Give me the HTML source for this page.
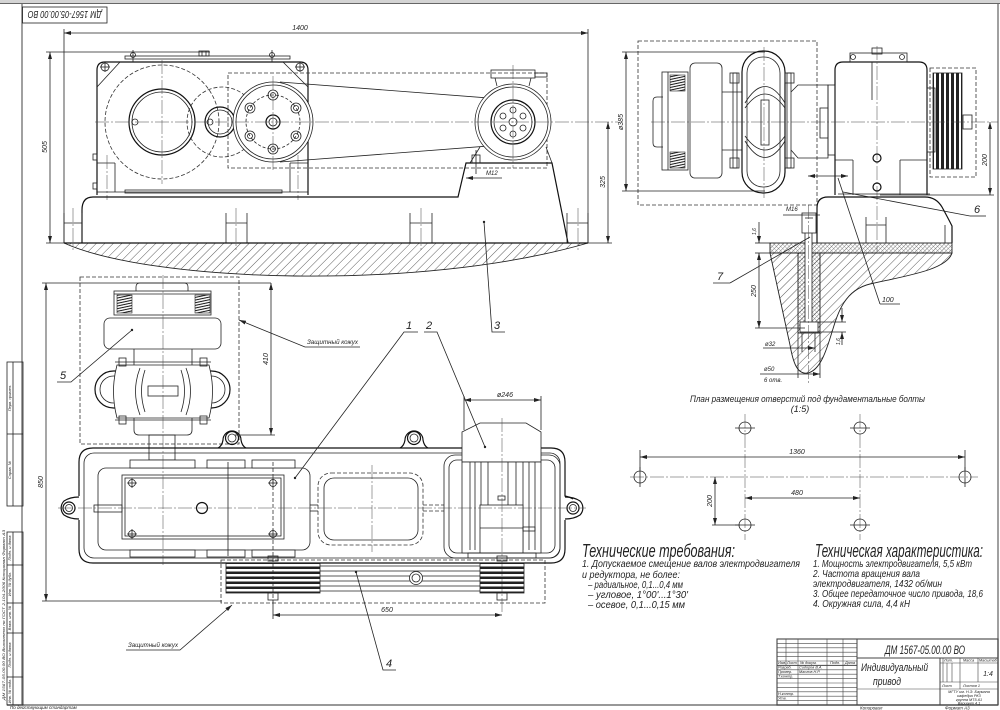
<!DOCTYPE html>
<html><head><meta charset="utf-8">
<style>
html,body{margin:0;padding:0;background:#fff;width:1000px;height:710px;overflow:hidden}
svg{display:block}
text{font-family:"Liberation Sans","DejaVu Sans",sans-serif;font-style:italic;fill:#222}
.l{fill:none;stroke:#222;stroke-width:.8}
.k{fill:none;stroke:#111;stroke-width:1.2}
.w{fill:#fff;stroke:#222;stroke-width:.8}
.d{fill:none;stroke:#333;stroke-width:.8;stroke-dasharray:4 2}
.c{fill:none;stroke:#444;stroke-width:.5;stroke-dasharray:14 2 2 2}
.g{fill:none;stroke:#777;stroke-width:1.4}
</style></head><body>
<svg width="1000" height="710" viewBox="0 0 1000 710" xmlns="http://www.w3.org/2000/svg">
<defs>
<pattern id="h" width="6" height="6" patternUnits="userSpaceOnUse" patternTransform="rotate(45)"><line x1="0" y1="0" x2="0" y2="6" stroke="#333" stroke-width="0.8"/></pattern>
<pattern id="hx" width="3" height="3" patternUnits="userSpaceOnUse" patternTransform="rotate(45)"><line x1="0" y1="0" x2="0" y2="3" stroke="#333" stroke-width="0.7"/><line x1="0" y1="0" x2="3" y2="0" stroke="#555" stroke-width="0.5"/></pattern>
<pattern id="sp" width="4" height="2.6" patternUnits="userSpaceOnUse" patternTransform="rotate(-12)"><line x1="0" y1="1.3" x2="4" y2="1.3" stroke="#111" stroke-width="1"/></pattern>
<pattern id="gv" width="5" height="10" patternUnits="userSpaceOnUse"><rect x="1" y="0" width="3" height="10" fill="#222"/></pattern>
<pattern id="gh" width="10" height="5" patternUnits="userSpaceOnUse"><rect x="0" y="1.5" width="10" height="2.5" fill="#222"/></pattern>
<marker id="a" markerWidth="7" markerHeight="4" refX="7" refY="2" orient="auto-start-reverse" markerUnits="userSpaceOnUse"><path d="M0,0 L7,2 L0,4z" fill="#222"/></marker>
</defs>

<!-- page frame -->
<rect x="0" y="0" width="1000" height="3" fill="#d4d4d4"/>
<line x1="0" y1="3.5" x2="1000" y2="3.5" stroke="#666" stroke-width="1"/>
<line x1="22" y1="4" x2="22" y2="705" class="g" stroke-width="1"/>
<line x1="998" y1="4" x2="998" y2="705" class="g" stroke-width="1"/>
<line x1="7" y1="705" x2="998" y2="705" class="g"/>
<text x="10" y="709" font-size="4.5" fill="#557">По действующим стандартам</text>
<text x="860" y="709.5" font-size="4.5">Копировал</text>
<text x="945" y="709.5" font-size="4.5">Формат А3</text>

<!-- stamp top-left -->
<rect x="22.5" y="7" width="84.5" height="16" class="l"/>
<text transform="rotate(180 64.75 15)" x="64.75" y="19" font-size="10" text-anchor="middle" textLength="74" lengthAdjust="spacingAndGlyphs">ДМ 1567-05.00.00 ВО</text>

<!-- left margin stamps -->
<rect x="7" y="362" width="16" height="144" class="l"/>
<line x1="7" y1="434" x2="23" y2="434" class="l"/>
<line x1="13" y1="362" x2="13" y2="506" class="l"/>
<text transform="translate(11,398) rotate(-90)" font-size="4" text-anchor="middle">Перв. примен.</text>
<text transform="translate(11,470) rotate(-90)" font-size="4" text-anchor="middle">Справ. №</text>
<rect x="7" y="532" width="16" height="173" class="l"/>
<line x1="13" y1="532" x2="13" y2="705" class="l"/>
<line x1="7" y1="565" x2="23" y2="565" class="l"/>
<line x1="7" y1="603" x2="23" y2="603" class="l"/>
<line x1="7" y1="633" x2="23" y2="633" class="l"/>
<line x1="7" y1="677" x2="23" y2="677" class="l"/>
<text transform="translate(11,548) rotate(-90)" font-size="4" text-anchor="middle">Подп. и дата</text>
<text transform="translate(11,584) rotate(-90)" font-size="4" text-anchor="middle">Инв. № дубл.</text>
<text transform="translate(11,618) rotate(-90)" font-size="4" text-anchor="middle">Взам. инв. №</text>
<text transform="translate(11,655) rotate(-90)" font-size="4" text-anchor="middle">Подп. и дата</text>
<text transform="translate(11,691) rotate(-90)" font-size="4" text-anchor="middle">Инв. № подл.</text>
<text transform="translate(5,700) rotate(-90)" font-size="4" fill="#557" textLength="170" lengthAdjust="spacingAndGlyphs">ДМ 1567-05.00.00 ВО Выполнено по ГОСТ 2.104-2006 Копировал Формат А3</text>

<!-- ================= TOP VIEW ================= -->
<line x1="64" y1="33" x2="588" y2="33" class="l" marker-start="url(#a)" marker-end="url(#a)"/>
<line x1="64" y1="29" x2="64" y2="243" class="l"/>
<line x1="588" y1="29" x2="588" y2="243" class="l"/>
<text x="300" y="30" font-size="7" text-anchor="middle">1400</text>
<line x1="50" y1="52" x2="50" y2="243" class="l" marker-start="url(#a)" marker-end="url(#a)"/>
<line x1="46" y1="52" x2="210" y2="52" class="l"/>
<line x1="46" y1="243" x2="64" y2="243" class="l"/>
<text transform="translate(47,147) rotate(-90)" font-size="7" text-anchor="middle">505</text>

<!-- housing -->
<path d="M97,195 L97,70 Q97,62 105,62 L300,62 Q308,62 308,70 L308,195" class="k"/>
<line x1="120" y1="62" x2="97" y2="87" class="l"/>
<line x1="283" y1="62" x2="308" y2="87" class="l"/>
<rect x="125" y="56" width="165" height="3" class="l"/>
<circle cx="133" cy="55" r="2.5" class="l"/><line x1="133" y1="50" x2="133" y2="62" class="l"/>
<circle cx="272" cy="55" r="2.5" class="l"/><line x1="272" y1="50" x2="272" y2="62" class="l"/>
<rect x="199" y="51" width="10" height="5" class="l"/><line x1="202" y1="51" x2="202" y2="56" class="l"/><line x1="206" y1="51" x2="206" y2="56" class="l"/>
<circle cx="105" cy="67" r="4" class="l"/><line x1="100" y1="67" x2="110" y2="67" class="l"/><line x1="105" y1="62" x2="105" y2="72" class="l"/>
<circle cx="300" cy="67" r="4" class="l"/><line x1="295" y1="67" x2="305" y2="67" class="l"/><line x1="300" y1="62" x2="300" y2="72" class="l"/>
<circle cx="162" cy="122" r="57" class="d"/>
<circle cx="162" cy="122" r="33" class="k"/>
<circle cx="162" cy="122" r="30" class="l"/>
<circle cx="135" cy="122" r="3" class="l"/>
<circle cx="222" cy="122" r="35" class="d"/>
<circle cx="220" cy="122" r="15" class="k"/>
<circle cx="220" cy="122" r="12" class="l"/>
<circle cx="210" cy="122" r="3" class="l"/>
<!-- feet -->
<line x1="115" y1="163" x2="115" y2="192" class="l"/><line x1="97" y1="163" x2="115" y2="163" class="l"/>
<line x1="290" y1="163" x2="290" y2="192" class="l"/><line x1="290" y1="163" x2="308" y2="163" class="l"/>
<line x1="107" y1="155" x2="107" y2="200" class="c"/><line x1="298" y1="155" x2="298" y2="200" class="c"/>
<rect x="93" y="154" width="4" height="6" class="l"/><rect x="93" y="183" width="4" height="6" class="l"/>
<line x1="97" y1="192" x2="308" y2="192" class="l"/>
<rect x="125" y="190" width="157" height="3" class="l"/>
<!-- guard -->
<rect x="228" y="73" width="319" height="95" class="d"/>
<!-- belts -->
<line x1="280" y1="82" x2="515" y2="100" class="l"/>
<line x1="280" y1="162" x2="515" y2="144" class="l"/>
<!-- big pulley -->
<circle cx="273" cy="122" r="40" class="w" stroke-width="1.2"/>
<circle cx="273" cy="122" r="37" class="l"/>
<circle cx="273" cy="122" r="27" class="l" stroke-dasharray="3 2"/>
<g class="l">
<circle cx="273" cy="95" r="5"/><circle cx="273" cy="95" r="2.5"/>
<circle cx="250" cy="108" r="5"/><circle cx="250" cy="108" r="2.5"/>
<circle cx="296" cy="108" r="5"/><circle cx="296" cy="108" r="2.5"/>
<circle cx="250" cy="136" r="5"/><circle cx="250" cy="136" r="2.5"/>
<circle cx="296" cy="136" r="5"/><circle cx="296" cy="136" r="2.5"/>
<circle cx="273" cy="149" r="5"/><circle cx="273" cy="149" r="2.5"/>
</g>
<circle cx="273" cy="122" r="7" class="k" stroke-width="1.6"/>
<circle cx="273" cy="122" r="4" class="l"/>
<!-- motor -->
<rect x="491" y="70" width="44" height="8" class="l"/>
<rect x="535" y="73" width="12" height="4" class="l"/>
<line x1="495" y1="78" x2="497" y2="86" class="l"/><line x1="531" y1="78" x2="529" y2="86" class="l"/>
<circle cx="513" cy="122" r="38" class="w" stroke-width="1.2"/>
<circle cx="513" cy="122" r="35" class="l"/>
<circle cx="513" cy="122" r="22" class="k"/>
<circle cx="513" cy="122" r="19" class="l"/>
<g class="l">
<circle cx="513" cy="110" r="3"/><circle cx="523" cy="116" r="3"/><circle cx="523" cy="128" r="3"/>
<circle cx="513" cy="134" r="3"/><circle cx="503" cy="128" r="3"/><circle cx="503" cy="116" r="3"/>
<circle cx="513" cy="122" r="4"/>
</g>
<line x1="480" y1="147" x2="470" y2="163" class="l"/>
<line x1="546" y1="147" x2="552" y2="163" class="l"/>
<!-- base -->
<path d="M93,197 Q82,197 82,210 L82,243" class="k"/>
<path d="M93,197 L458,197 L466,163 L552,163 L568,243" class="k"/>
<line x1="476" y1="150" x2="476" y2="174" class="l"/>
<rect x="472" y="155" width="8" height="8" class="l"/>
<line x1="466" y1="178" x2="502" y2="178" class="l" marker-start="url(#a)"/>
<text x="486" y="175" font-size="6">M12</text>
<!-- foundation bolts -->
<g class="l">
<line x1="64" y1="213" x2="64" y2="243"/><line x1="82" y1="213" x2="82" y2="243"/><line x1="64" y1="223" x2="82" y2="223"/>
<line x1="226" y1="213" x2="226" y2="243"/><line x1="247" y1="213" x2="247" y2="243"/><line x1="226" y1="223" x2="247" y2="223"/>
<line x1="410" y1="213" x2="410" y2="243"/><line x1="432" y1="213" x2="432" y2="243"/><line x1="410" y1="223" x2="432" y2="223"/>
<line x1="567" y1="213" x2="567" y2="243"/><line x1="588" y1="213" x2="588" y2="243"/><line x1="567" y1="223" x2="588" y2="223"/>
</g>
<line x1="73" y1="208" x2="73" y2="250" class="c"/><line x1="236" y1="208" x2="236" y2="250" class="c"/>
<line x1="421" y1="208" x2="421" y2="250" class="c"/><line x1="578" y1="208" x2="578" y2="250" class="c"/>
<!-- foundation -->
<path d="M64,243 L588,243 C420,292 150,282 64,243 Z" fill="url(#h)" stroke="#222" stroke-width=".9"/>
<line x1="64" y1="243" x2="588" y2="243" class="k"/>
<!-- centerlines -->
<line x1="95" y1="122" x2="618" y2="122" class="c"/>
<line x1="162" y1="60" x2="162" y2="184" class="c"/>
<line x1="273" y1="76" x2="273" y2="170" class="c"/>
<line x1="513" y1="65" x2="513" y2="168" class="c"/>
<!-- 325 -->
<line x1="608" y1="122" x2="608" y2="243" class="l" marker-start="url(#a)" marker-end="url(#a)"/>
<line x1="588" y1="243" x2="612" y2="243" class="l"/>
<text transform="translate(605,182) rotate(-90)" font-size="7" text-anchor="middle">325</text>
<!-- label 3 -->
<circle cx="484" cy="222" r="1.2" fill="#222"/>
<polyline points="484,222 492,332 505,332" class="l"/>
<text x="494" y="329" font-size="11">3</text>

<!-- ================= RIGHT VIEW ================= -->
<rect x="638" y="41" width="179" height="164" class="d"/>
<line x1="626" y1="52" x2="626" y2="191" class="l" marker-start="url(#a)" marker-end="url(#a)"/>
<line x1="622" y1="52" x2="765" y2="52" class="l"/>
<line x1="622" y1="191" x2="765" y2="191" class="l"/>
<text transform="translate(623,122) rotate(-90)" font-size="7" text-anchor="middle">ø385</text>
<!-- brake -->
<path d="M663,97 L657,97 Q653,97 653,101 L653,143 Q653,147 657,147 L663,147" class="l"/>
<rect x="662" y="72" width="26" height="98" class="l"/>
<line x1="668" y1="72" x2="668" y2="170" class="l"/>
<rect x="670" y="75" width="15" height="16" fill="url(#sp)" stroke="#222" stroke-width=".6"/>
<rect x="670" y="152" width="15" height="16" fill="url(#sp)" stroke="#222" stroke-width=".6"/>
<rect x="690" y="63" width="32" height="115" rx="5" class="w"/>
<line x1="722" y1="92" x2="742" y2="92" class="l"/><line x1="722" y1="150" x2="742" y2="150" class="l"/>
<!-- coupling -->
<rect x="742" y="51" width="43" height="142" rx="21" class="k"/>
<rect x="747" y="57" width="33" height="130" rx="16" class="l"/>
<rect x="733" y="73" width="4" height="95" class="l"/>
<rect x="787" y="73" width="4" height="95" class="l"/>
<rect x="730" y="73" width="9" height="10" class="l"/><rect x="730" y="158" width="9" height="10" class="l"/>
<rect x="785" y="73" width="9" height="10" class="l"/><rect x="785" y="158" width="9" height="10" class="l"/>
<path d="M745,108 Q765,80 785,108 M745,103 Q765,70 785,103 M745,136 Q765,164 785,136 M745,141 Q765,174 785,141" class="l"/>
<rect x="761" y="100" width="8" height="45" class="l"/>
<line x1="764" y1="47" x2="764" y2="198" class="c"/>
<!-- connector -->
<path d="M791,92 L798,85 L828,85 L828,158 L798,158 L791,150" class="l"/>
<rect x="820" y="108" width="8" height="30" class="l"/>
<!-- gearbox side -->
<path d="M835,195 L835,70 Q835,62 843,62 L919,62 Q927,62 927,70 L927,195" class="k"/>
<rect x="850" y="53" width="57" height="9" class="l"/>
<rect x="872" y="48" width="10" height="6" class="l"/>
<circle cx="853" cy="57" r="2.5" class="l"/><circle cx="902" cy="57" r="2.5" class="l"/>
<rect x="828" y="85" width="7" height="70" class="l"/>
<rect x="927" y="88" width="8" height="64" class="l"/>
<line x1="877" y1="46" x2="877" y2="252" class="c"/>
<line x1="853" y1="160" x2="853" y2="195" class="l"/><line x1="900" y1="160" x2="900" y2="195" class="l"/>
<line x1="835" y1="160" x2="853" y2="160" class="l"/><line x1="900" y1="160" x2="927" y2="160" class="l"/>
<circle cx="877" cy="158" r="4" class="k"/><circle cx="877" cy="187" r="4" class="k"/>
<line x1="872" y1="62" x2="872" y2="100" class="l"/>
<!-- pulley -->
<rect x="930" y="68" width="46" height="109" class="d"/>
<rect x="933" y="73" width="29" height="96" fill="url(#gv)" stroke="#222" stroke-width=".8"/>
<rect x="963" y="115" width="9" height="14" class="l"/>
<line x1="651" y1="122" x2="998" y2="122" class="c"/>
<line x1="990" y1="122" x2="990" y2="195" class="l" marker-start="url(#a)" marker-end="url(#a)"/>
<line x1="880" y1="195" x2="994" y2="195" class="l"/>
<text transform="translate(987,160) rotate(-90)" font-size="7" text-anchor="middle">200</text>
<!-- pedestal -->
<path d="M817,243 L817,208 Q817,197 828,197 L925,197 Q936,197 942,207 Q948,218 952,226 L952,243" class="k"/>
<line x1="945" y1="225" x2="945" y2="243" class="l"/>
<line x1="838" y1="194" x2="930" y2="194" class="l"/>
<line x1="866" y1="217" x2="866" y2="243" class="l"/><line x1="886" y1="217" x2="886" y2="243" class="l"/><line x1="866" y1="225" x2="886" y2="225" class="l"/>
<!-- foundation section -->
<path d="M770,253 L952,253 C947,270 905,276 870,284 C845,290 838,312 832,332 C826,352 820,370 808,373 C797,375 793,362 790,345 Z" fill="url(#h)" stroke="#222" stroke-width=".9"/>
<rect x="770" y="243" width="182" height="10" fill="url(#hx)" stroke="#222" stroke-width=".9"/>
<rect x="798" y="253" width="22" height="80" fill="url(#hx)" stroke="#222" stroke-width=".9"/>
<rect x="805" y="228" width="7" height="97" class="w"/>
<rect x="802" y="213" width="14" height="20" class="w"/>
<line x1="805" y1="218" x2="813" y2="218" class="l"/>
<rect x="800" y="322" width="18" height="10" class="w"/>
<line x1="808.5" y1="205" x2="808.5" y2="385" class="c"/>
<!-- lower dims -->
<line x1="783" y1="215" x2="820" y2="215" class="l"/>
<text x="786" y="211" font-size="6">M16</text>
<line x1="759" y1="222" x2="759" y2="243" class="l" marker-end="url(#a)"/>
<text transform="translate(756,235) rotate(-90)" font-size="5">1,6</text>
<line x1="759" y1="253" x2="759" y2="328" class="l" marker-start="url(#a)" marker-end="url(#a)"/>
<line x1="755" y1="243" x2="770" y2="243" class="l"/><line x1="755" y1="253" x2="770" y2="253" class="l"/>
<line x1="755" y1="328" x2="805" y2="328" class="l"/>
<text transform="translate(756,291) rotate(-90)" font-size="7" text-anchor="middle">250</text>
<line x1="842" y1="308" x2="842" y2="322" class="l" marker-end="url(#a)"/>
<line x1="842" y1="332" x2="842" y2="345" class="l" marker-start="url(#a)"/>
<line x1="818" y1="322" x2="846" y2="322" class="l"/><line x1="818" y1="332" x2="846" y2="332" class="l"/>
<text transform="translate(840,345) rotate(-90)" font-size="5">1,6</text>
<line x1="798" y1="333" x2="798" y2="378" class="l"/><line x1="820" y1="333" x2="820" y2="378" class="l"/>
<line x1="802" y1="333" x2="802" y2="352" class="l"/><line x1="815" y1="333" x2="815" y2="352" class="l"/>
<line x1="763" y1="348" x2="815" y2="348" class="l" marker-end="url(#a)"/>
<text x="765" y="346" font-size="6">ø32</text>
<line x1="760" y1="374" x2="820" y2="374" class="l" marker-end="url(#a)"/>
<text x="764" y="371" font-size="6">ø50</text>
<text x="764" y="382" font-size="6">6 отв.</text>
<!-- labels right -->
<line x1="843" y1="192" x2="970" y2="216" class="l"/><line x1="970" y1="216" x2="986" y2="216" class="l"/>
<text x="974" y="213" font-size="11">6</text>
<line x1="810" y1="237" x2="730" y2="283" class="l"/><line x1="730" y1="283" x2="713" y2="283" class="l"/>
<text x="717" y="280" font-size="11">7</text>
<line x1="808" y1="176" x2="848" y2="176" class="l" marker-start="url(#a)" marker-end="url(#a)"/>
<line x1="838" y1="178" x2="880" y2="304" class="l"/><line x1="880" y1="304" x2="900" y2="304" class="l"/>
<text x="882" y="302" font-size="7">100</text>

<!-- ================= BOTTOM-LEFT VIEW ================= -->
<rect x="80" y="277" width="159" height="167" class="d"/>
<line x1="46" y1="283" x2="46" y2="601" class="l" marker-start="url(#a)" marker-end="url(#a)"/>
<line x1="42" y1="283" x2="271" y2="283" class="l"/>
<line x1="42" y1="601" x2="222" y2="601" class="l"/>
<text transform="translate(43,482) rotate(-90)" font-size="7" text-anchor="middle">850</text>
<line x1="271" y1="283" x2="271" y2="435" class="l" marker-start="url(#a)" marker-end="url(#a)"/>
<line x1="235" y1="435" x2="275" y2="435" class="l"/>
<text transform="translate(268,359) rotate(-90)" font-size="7" text-anchor="middle">410</text>
<!-- brake top -->
<path d="M136,291 L136,287 Q136,283 140,283 L184,283 Q188,283 188,287 L188,291" class="l"/>
<rect x="114" y="291" width="97" height="24" class="l"/>
<line x1="114" y1="294" x2="211" y2="294" class="l"/>
<rect x="117" y="295" width="15" height="18" fill="url(#sp)" stroke="#222" stroke-width=".6"/>
<rect x="195" y="295" width="15" height="18" fill="url(#sp)" stroke="#222" stroke-width=".6"/>
<rect x="104" y="318" width="117" height="31" rx="6" class="w"/>
<line x1="134" y1="349" x2="134" y2="365" class="l"/><line x1="192" y1="349" x2="192" y2="365" class="l"/>
<rect x="95" y="371" width="135" height="37" rx="18.5" class="k"/>
<rect x="100" y="376" width="125" height="27" rx="13.5" class="l"/>
<line x1="115" y1="362" x2="211" y2="362" class="l"/><line x1="115" y1="420" x2="211" y2="420" class="l"/>
<path d="M117,365 L209,365 Q216,391 209,418 L117,418 Q110,391 117,365 Z" class="w"/>
<path d="M145,370 Q138,391 145,412 M181,370 Q188,391 181,412 M140,368 Q131,391 140,415 M186,368 Q195,391 186,415" class="l"/>
<rect x="148" y="386" width="30" height="10" class="l"/>
<rect x="119" y="358" width="7" height="8" class="l"/><rect x="200" y="358" width="7" height="8" class="l"/>
<rect x="119" y="416" width="7" height="8" class="l"/><rect x="200" y="416" width="7" height="8" class="l"/>
<path d="M134,418 L134,430 Q134,435 139,435 L187,435 Q192,435 192,430 L192,418" class="l"/>
<rect x="149" y="435" width="26" height="25" class="l"/>
<!-- frame -->
<path d="M93,448 L551,448 Q565,448 565,462 L565,496 Q570,497 573,499 L573,499 M565,520 L565,549 Q565,563 551,563 L93,563 Q79,563 79,549 L79,520 M79,496 L79,462 Q79,448 93,448" class="k"/>
<rect x="84" y="453" width="476" height="105" rx="10" class="l"/>
<path d="M79,497 Q70,497 64,501 A10,10 0 0 0 64,515 Q70,519 79,519" class="k"/>
<circle cx="69" cy="508" r="6" class="k"/><circle cx="69" cy="508" r="3.5" class="l"/>
<path d="M565,497 Q574,497 580,501 A10,10 0 0 1 580,515 Q574,519 565,519" class="k"/>
<circle cx="573" cy="508" r="6" class="k"/><circle cx="573" cy="508" r="3.5" class="l"/>
<path d="M218,448 Q222,446 223,440 A9,9 0 0 1 241,440 Q242,446 246,448" class="k"/>
<circle cx="232" cy="438" r="6.5" class="k"/><circle cx="232" cy="438" r="4" class="l"/>
<path d="M400,448 Q404,446 405,440 A9,9 0 0 1 423,440 Q424,446 428,448" class="k"/>
<circle cx="414" cy="438" r="6.5" class="k"/><circle cx="414" cy="438" r="4" class="l"/>
<!-- gearbox bottom view -->
<rect x="98" y="468" width="212" height="82" rx="8" class="w"/>
<rect x="122" y="475" width="162" height="64" class="l"/>
<rect x="125" y="478" width="156" height="58" class="l"/>
<g class="l">
<circle cx="132" cy="483" r="3.5"/><line x1="127" y1="483" x2="137" y2="483"/><line x1="132" y1="478" x2="132" y2="488"/>
<circle cx="273" cy="483" r="3.5"/><line x1="268" y1="483" x2="278" y2="483"/><line x1="273" y1="478" x2="273" y2="488"/>
<circle cx="132" cy="534" r="3.5"/><line x1="127" y1="534" x2="137" y2="534"/><line x1="132" y1="529" x2="132" y2="539"/>
<circle cx="273" cy="534" r="3.5"/><line x1="268" y1="534" x2="278" y2="534"/><line x1="273" y1="529" x2="273" y2="539"/>
</g>
<circle cx="202" cy="508" r="5.5" class="k" stroke-width="1.6"/>
<rect x="94" y="505" width="28" height="7" class="l"/>
<rect x="130" y="460" width="65" height="8" class="w"/><rect x="207" y="460" width="38" height="8" class="w"/><rect x="252" y="460" width="43" height="8" class="w"/>
<rect x="130" y="550" width="65" height="7" class="w"/><rect x="207" y="550" width="38" height="7" class="w"/><rect x="252" y="550" width="43" height="7" class="w"/>
<line x1="228" y1="462" x2="228" y2="556" class="l"/>
<line x1="273" y1="462" x2="273" y2="600" class="d" stroke-width=".6"/>
<!-- window -->
<rect x="318" y="473" width="105" height="72" rx="13" class="d"/>
<rect x="324" y="478" width="94" height="62" rx="10" class="l"/>
<line x1="310" y1="505" x2="318" y2="505" class="l"/><line x1="310" y1="511" x2="318" y2="511" class="l"/>
<line x1="423" y1="505" x2="444" y2="505" class="d"/><line x1="423" y1="511" x2="444" y2="511" class="d"/>
<line x1="372" y1="465" x2="372" y2="552" class="c"/>
<!-- motor compartment -->
<rect x="444" y="455" width="116" height="103" rx="11" class="l"/>
<rect x="449" y="460" width="106" height="93" rx="8" class="l"/>
<!-- motor -->
<line x1="464" y1="396" x2="464" y2="430" class="l"/><line x1="541" y1="396" x2="541" y2="430" class="l"/>
<line x1="464" y1="400" x2="541" y2="400" class="l" marker-start="url(#a)" marker-end="url(#a)"/>
<text x="505" y="397" font-size="7" text-anchor="middle">ø246</text>
<path d="M462,462 L462,432 L480,423 L526,423 L541,432 L541,462 Z" class="w"/>
<rect x="462" y="462" width="79" height="91" class="w"/>
<g class="l">
<line x1="470" y1="462" x2="470" y2="550"/><line x1="475" y1="462" x2="475" y2="550"/>
<line x1="481" y1="462" x2="481" y2="505"/><line x1="488" y1="462" x2="488" y2="505"/>
<line x1="508" y1="462" x2="508" y2="505"/><line x1="516" y1="462" x2="516" y2="505"/>
<line x1="523" y1="462" x2="523" y2="550"/><line x1="529" y1="462" x2="529" y2="550"/><line x1="535" y1="462" x2="535" y2="550"/>
</g>
<rect x="480" y="505" width="43" height="48" class="w"/>
<line x1="480" y1="528" x2="523" y2="528" class="l"/>
<rect x="498" y="496" width="7" height="4" class="l"/>
<rect x="523" y="527" width="12" height="4" class="l"/>
<rect x="468" y="553" width="68" height="5" class="l"/>
<line x1="502" y1="418" x2="502" y2="612" class="c"/>
<!-- centerlines -->
<line x1="58" y1="508" x2="586" y2="508" class="c"/>
<line x1="163" y1="275" x2="163" y2="565" class="c"/>
<!-- belt drive -->
<rect x="221" y="560" width="324" height="43" class="d"/>
<rect x="226" y="563" width="94" height="30" fill="url(#gh)" stroke="#222" stroke-width=".8"/>
<rect x="480" y="563" width="44" height="30" fill="url(#gh)" stroke="#222" stroke-width=".8"/>
<g class="l">
<line x1="320" y1="566" x2="480" y2="566"/><line x1="320" y1="571" x2="480" y2="571"/>
<line x1="320" y1="576" x2="480" y2="576"/><line x1="320" y1="581" x2="480" y2="581"/>
<line x1="320" y1="586" x2="480" y2="586"/><line x1="320" y1="591" x2="480" y2="591"/>
</g>
<circle cx="416" cy="578" r="6.5" class="w" stroke-width="1.2"/><circle cx="416" cy="578" r="4" class="l"/>
<rect x="268" y="556" width="10" height="5" class="l"/><rect x="268" y="593" width="10" height="7" class="l"/>
<rect x="497" y="556" width="10" height="5" class="l"/><rect x="497" y="593" width="10" height="7" class="l"/>
<line x1="273" y1="600" x2="273" y2="619" class="l"/>
<line x1="273" y1="615" x2="502" y2="615" class="l" marker-start="url(#a)" marker-end="url(#a)"/>
<text x="387" y="612" font-size="7" text-anchor="middle">650</text>
<!-- labels bottom -->
<circle cx="295" cy="478" r="1.2" fill="#222"/>
<polyline points="295,478 404,332 418,332" class="l"/>
<text x="406" y="329" font-size="11">1</text>
<circle cx="485" cy="447" r="1.2" fill="#222"/>
<polyline points="485,447 437,332 424,332" class="l"/>
<text x="426" y="329" font-size="11">2</text>
<circle cx="132" cy="330" r="1.2" fill="#222"/>
<polyline points="132,330 71,382 57,382" class="l"/>
<text x="60" y="379" font-size="11">5</text>
<polyline points="239,320 305,347 360,347" class="l" marker-start="url(#a)"/>
<text x="307" y="344" font-size="6.5" textLength="51" lengthAdjust="spacingAndGlyphs">Защитный кожух</text>
<polyline points="232,605 180,650 126,650" class="l" marker-start="url(#a)"/>
<text x="128" y="647" font-size="6.5" textLength="50" lengthAdjust="spacingAndGlyphs">Защитный кожух</text>
<circle cx="356" cy="572" r="1.2" fill="#222"/>
<polyline points="356,572 383,670 396,670" class="l"/>
<text x="386" y="667" font-size="11">4</text>

<!-- ================= PLAN ================= -->
<text x="690" y="402" font-size="9" textLength="235" lengthAdjust="spacingAndGlyphs">План размещения отверстий под фундаментальные болты</text>
<text x="800" y="412" font-size="9" text-anchor="middle">(1:5)</text>
<line x1="630" y1="477" x2="978" y2="477" class="c"/>
<line x1="745" y1="414" x2="745" y2="540" class="c"/>
<line x1="860" y1="414" x2="860" y2="540" class="c"/>
<g class="l">
<circle cx="745" cy="428" r="6"/><line x1="735" y1="428" x2="755" y2="428"/>
<circle cx="860" cy="428" r="6"/><line x1="850" y1="428" x2="870" y2="428"/>
<circle cx="640" cy="477" r="6"/><line x1="640" y1="467" x2="640" y2="487"/>
<circle cx="965" cy="477" r="6"/><line x1="965" y1="467" x2="965" y2="487"/>
<circle cx="745" cy="525" r="6"/><line x1="735" y1="525" x2="755" y2="525"/>
<circle cx="860" cy="525" r="6"/><line x1="850" y1="525" x2="870" y2="525"/>
</g>
<line x1="640" y1="450" x2="640" y2="470" class="l"/><line x1="965" y1="450" x2="965" y2="470" class="l"/>
<line x1="640" y1="457" x2="965" y2="457" class="l" marker-start="url(#a)" marker-end="url(#a)"/>
<text x="797" y="454" font-size="7" text-anchor="middle">1360</text>
<line x1="745" y1="498" x2="860" y2="498" class="l" marker-start="url(#a)" marker-end="url(#a)"/>
<text x="797" y="495" font-size="7" text-anchor="middle">480</text>
<line x1="715" y1="477" x2="715" y2="525" class="l" marker-start="url(#a)" marker-end="url(#a)"/>
<line x1="712" y1="525" x2="740" y2="525" class="l"/>
<text transform="translate(712,501) rotate(-90)" font-size="7" text-anchor="middle">200</text>

<!-- ================= TEXT ================= -->
<text x="582" y="557" font-size="18" textLength="153" lengthAdjust="spacingAndGlyphs">Технические требования:</text>
<text x="582" y="567" font-size="10.5" textLength="218" lengthAdjust="spacingAndGlyphs">1. Допускаемое смещение валов электродвигателя</text>
<text x="582" y="578" font-size="10.5" textLength="98" lengthAdjust="spacingAndGlyphs">и редуктора, не более:</text>
<text x="588" y="588" font-size="10.5" textLength="95" lengthAdjust="spacingAndGlyphs">– радиальное, 0,1...0,4 мм</text>
<text x="588" y="598" font-size="10.5" textLength="100" lengthAdjust="spacingAndGlyphs">– угловое, 1°00'...1°30'</text>
<text x="588" y="608" font-size="10.5" textLength="97" lengthAdjust="spacingAndGlyphs">– осевое, 0,1...0,15 мм</text>
<text x="815" y="557" font-size="18" textLength="168" lengthAdjust="spacingAndGlyphs">Техническая характеристика:</text>
<text x="813" y="567" font-size="10.5" textLength="159" lengthAdjust="spacingAndGlyphs">1. Мощность электродвигателя, 5,5 кВт</text>
<text x="813" y="577" font-size="10.5" textLength="107" lengthAdjust="spacingAndGlyphs">2. Частота вращения вала</text>
<text x="813" y="587" font-size="10.5" textLength="129" lengthAdjust="spacingAndGlyphs">электродвигателя, 1432 об/мин</text>
<text x="813" y="597" font-size="10.5" textLength="170" lengthAdjust="spacingAndGlyphs">3. Общее передаточное число привода, 18,6</text>
<text x="813" y="607" font-size="10.5" textLength="97" lengthAdjust="spacingAndGlyphs">4. Окружная сила, 4,4 кН</text>

<!-- ================= TITLE BLOCK ================= -->
<g stroke="#444" stroke-width=".6" fill="none">
<rect x="777" y="639" width="221" height="66" stroke-width="1.1"/>
<line x1="786" y1="639" x2="786" y2="665"/>
<line x1="798" y1="639" x2="798" y2="705"/>
<line x1="827" y1="639" x2="827" y2="705"/>
<line x1="843" y1="639" x2="843" y2="705"/>
<line x1="857" y1="639" x2="857" y2="705" stroke-width="1"/>
<line x1="777" y1="643.4" x2="857" y2="643.4"/><line x1="777" y1="647.8" x2="857" y2="647.8"/>
<line x1="777" y1="652.2" x2="857" y2="652.2"/><line x1="777" y1="656.6" x2="857" y2="656.6"/>
<line x1="777" y1="661" x2="857" y2="661"/><line x1="777" y1="665.4" x2="857" y2="665.4" stroke-width="1"/>
<line x1="777" y1="669.8" x2="857" y2="669.8"/><line x1="777" y1="674.2" x2="857" y2="674.2"/>
<line x1="777" y1="678.6" x2="857" y2="678.6"/><line x1="777" y1="683" x2="857" y2="683"/>
<line x1="777" y1="687.4" x2="857" y2="687.4"/><line x1="777" y1="691.8" x2="857" y2="691.8"/>
<line x1="777" y1="696.2" x2="857" y2="696.2"/><line x1="777" y1="700.6" x2="857" y2="700.6"/>
<line x1="857" y1="658" x2="998" y2="658" stroke-width="1"/>
<line x1="940" y1="658" x2="940" y2="705" stroke-width="1"/>
<line x1="857" y1="689" x2="998" y2="689"/>
<line x1="940" y1="663" x2="998" y2="663"/>
<line x1="940" y1="682" x2="998" y2="682"/>
<line x1="943" y1="658" x2="943" y2="682"/><line x1="947" y1="663" x2="947" y2="682"/>
<line x1="952" y1="663" x2="952" y2="682"/><line x1="960" y1="658" x2="960" y2="689"/>
<line x1="978" y1="658" x2="978" y2="682"/>
</g>
<text x="925" y="654" font-size="12" text-anchor="middle" textLength="80" lengthAdjust="spacingAndGlyphs">ДМ 1567-05.00.00 ВО</text>
<text x="861" y="671" font-size="11" textLength="67" lengthAdjust="spacingAndGlyphs">Индивидуальный</text>
<text x="873" y="685" font-size="11" textLength="28" lengthAdjust="spacingAndGlyphs">привод</text>
<g font-size="3.8">
<text x="778" y="664">Изм.</text><text x="787" y="664">Лист</text><text x="800" y="664">№ докум.</text><text x="830" y="664">Подп.</text><text x="845" y="664">Дата</text>
<text x="778" y="668.5">Разраб.</text><text x="799" y="668.5">Сидоров В.А.</text>
<text x="778" y="673">Провер.</text><text x="799" y="673">Маслов Н.Р.</text>
<text x="778" y="677.5">Т.контр.</text>
<text x="778" y="695">Н.контр.</text>
<text x="778" y="699.5">Утв.</text>
<text x="944" y="661.5">Лит.</text><text x="963" y="661.5">Масса</text><text x="979" y="661.5">Масштаб</text>
<text x="942" y="687">Лист</text><text x="963" y="687">Листов 1</text>
<text x="969" y="693" text-anchor="middle">МГТУ им. Н.Э. Баумана</text>
<text x="969" y="697" text-anchor="middle">кафедра РК3</text>
<text x="969" y="701" text-anchor="middle">группа МТ5-61</text>
<text x="969" y="704.6" text-anchor="middle">Вариант 4.1</text>
</g>
<text x="988" y="676" font-size="7" text-anchor="middle">1:4</text>
</svg>
</body></html>
